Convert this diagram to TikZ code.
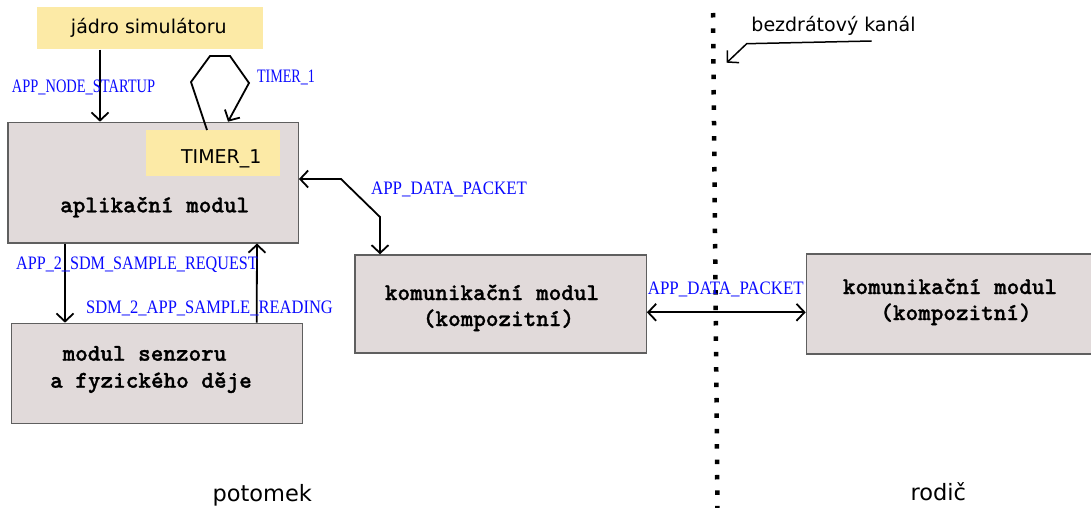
\documentclass[tikz,border=0pt]{standalone}
\usepackage{fontspec}
\setmainfont{DejaVu Sans}
\newfontfamily\seriffnt{Liberation Serif}
\newfontfamily\monob{lmmonolt10-bold.otf}[FakeBold=1.2]
\usetikzlibrary{arrows.meta,calc}
\definecolor{yel}{RGB}{252,234,166}
\definecolor{boxgray}{RGB}{225,218,218}
\definecolor{bordergray}{RGB}{95,95,95}
\definecolor{lblue}{RGB}{10,10,255}
\begin{document}
\begin{tikzpicture}[x=1pt,y=-1pt,
  >={Straight Barb[length=8pt,width=17pt]},
  gbox/.style={draw=bordergray, fill=boxgray, line width=1.2pt, inner sep=0pt, anchor=north west},
  ybox/.style={fill=yel, inner sep=0pt, anchor=north west},
  conn/.style={line width=1.8pt, draw=black},
  sanst/.style={font=\fontsize{19}{22}\selectfont, inner sep=0pt, anchor=base},
  bigt/.style={font=\fontsize{22.5}{26}\selectfont, inner sep=0pt, anchor=base},
  monot/.style={font=\fontsize{24}{27}\selectfont\monob, inner sep=0pt, anchor=base},
  lbl/.style={font=\fontsize{19}{21}\selectfont\seriffnt, text=lblue, inner sep=0pt, anchor=base}]
\useasboundingbox (0,0) rectangle (1091,508);

% boxes
\node[ybox, minimum width=226pt, minimum height=42pt] (core) at (36.7,7.3) {};
\node[gbox, minimum width=290.4pt, minimum height=120.6pt] (app) at (7.3,121.7) {};
\node[ybox, minimum width=133.3pt, minimum height=45.7pt] (timer) at (146,130) {};
\node[gbox, minimum width=291pt, minimum height=100pt] (sensor) at (10.7,322.7) {};
\node[gbox, minimum width=291.4pt, minimum height=98pt] (commL) at (354.3,254.3) {};
\node[gbox, minimum width=290pt, minimum height=100pt] (commR) at (805.7,253.3) {};

% box texts
\node[sanst] (coreT) at (148.8,33.3) {jádro simulátoru};
\node[sanst] (timerT) at (221.3,163.3) {TIMER\_1};
\node[monot] (appT) at (154.7,212.3) {aplikační modul};
\node[monot] (sensorT1) at (144.5,360.7) {modul senzoru};
\node[monot] (sensorT2) at (151,387.7) {a fyzického děje};
\node[monot] (commLT1) at (492,300) {komunikační modul};
\node[monot] (commLT2) at (498.5,326) {(kompozitní)};
\node[monot] (commRT1) at (950,294) {komunikační modul};
\node[monot] (commRT2) at (956,320) {(kompozitní)};

% free texts
\node[sanst] (chan) at (833.5,31.7) {bezdrátový kanál};
\node[bigt] (child) at (262.3,501.7) {potomek};
\node[bigt] (parent) at (938.3,500) {rodič};

% wireless channel
\coordinate (chTop) at (713,13);
\coordinate (chBot) at (717.5,510);
\draw[line width=4.5pt, dash pattern=on 4.5pt off 10.9pt] (chTop) -- (chBot);
\coordinate (chArrS) at (871.7,41);
\coordinate (chArrE) at (726.7,62.7);
\draw[line width=1.5pt,->] (chArrS) -- (746.7,43.7) -- (chArrE);

% connectors
\draw[conn,->] ($(core.south west)+(63.3,0)$) -- ($(app.north west)+(92.7,0)$);
\draw[conn,->] ($(timer.north west)+(61,0)$) -- (191,82) -- (210,56) -- (230,56) -- (249,83) -- ($(app.north west)+(220.7,0)$);
\draw[conn,<->] ($(app.north east)+(0,57.3)$) -- (341,179) -- (380,217) -- ($(commL.north west)+(25.7,0)$);
\draw[conn,<->] ($(commL.east)+(0,8.4)$) -- ($(commR.west)+(0,8.4)$);
\draw[conn,->] ($(app.south west)+(57.7,0)$) -- ($(sensor.north west)+(54.3,0)$);
\draw[conn,->] ($(sensor.north west)+(246,0)$) -- ($(app.south west)+(249.7,0)$);

% labels
\node[lbl] (lStart) at (83.5,92.7) {\scalebox{0.76}[1]{APP\_NODE\_STARTUP}};
\node[lbl] (lTimer) at (286,83) {\scalebox{0.742}[1]{TIMER\_1}};
\node[lbl] (lReq) at (137,269.3) {\scalebox{0.851}[1]{APP\_2\_SDM\_SAMPLE\_REQUEST}};
\node[lbl] (lRead) at (209.5,313) {\scalebox{0.869}[1]{SDM\_2\_APP\_SAMPLE\_READING}};
\node[lbl] (lData1) at (449,194.4) {\scalebox{0.89}[1]{APP\_DATA\_PACKET}};
\node[lbl] (lData2) at (725.8,294.3) {\scalebox{0.89}[1]{APP\_DATA\_PACKET}};
\end{tikzpicture}
\end{document}
